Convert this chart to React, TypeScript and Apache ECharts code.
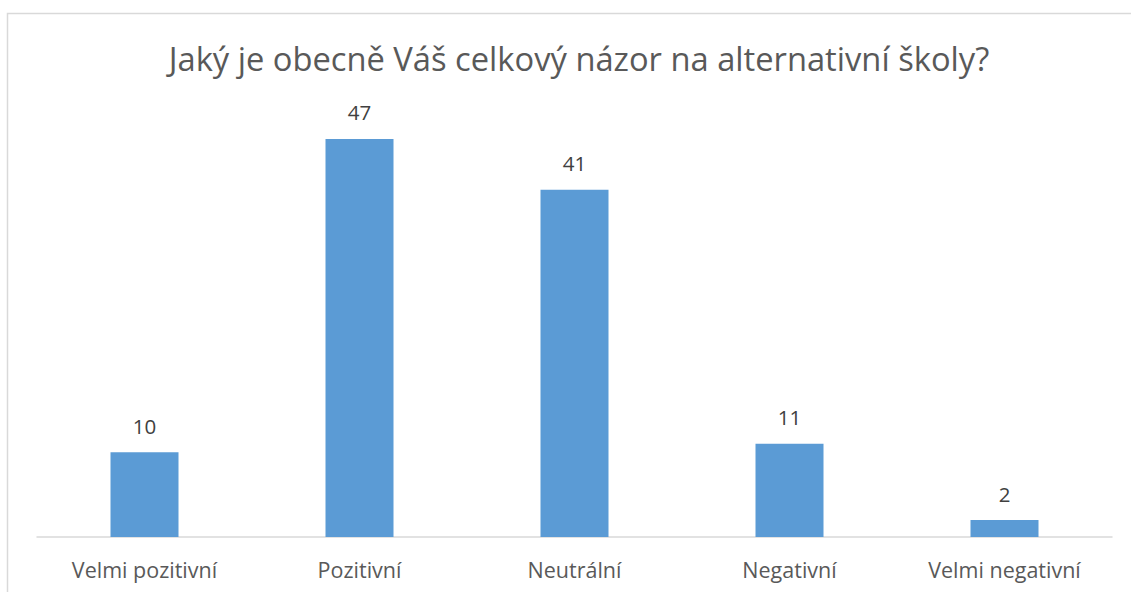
import React, { useEffect, useRef } from "react";
import * as echarts from "echarts";

const categories = ["Velmi pozitivní", "Pozitivní", "Neutrální", "Negativní", "Velmi negativní"];
const values = [10, 47, 41, 11, 2];
const title = "Jaký je obecně Váš celkový názor na alternativní školy?";

const FONT = "'Open Sans', sans-serif";

export default function App() {
  const ref = useRef<HTMLDivElement>(null);
  useEffect(() => {
    if (!ref.current) return;
    const chart = echarts.init(ref.current, undefined, { renderer: "svg" });
    chart.setOption({
      animation: false,
      backgroundColor: "#ffffff",
      graphic: [
        {
          type: "rect",
          shape: { x: 7.5, y: 13.5, width: 1140, height: 600 },
          style: { fill: "none", stroke: "#D9D9D9", lineWidth: 1.5 },
          silent: true,
        },
      ],
      title: {
        text: title,
        left: 574,
        textAlign: "center",
        top: 37,
        textStyle: { fontFamily: FONT, fontSize: 32.7, fontWeight: "normal", color: "#595959" },
      },
      grid: { left: 37, right: 19, top: 113.5, bottom: 55 },
      xAxis: {
        type: "category",
        data: categories,
        axisLine: { lineStyle: { color: "#D9D9D9", width: 1.5 } },
        axisTick: { show: false },
        axisLabel: { fontFamily: FONT, fontSize: 21.5, color: "#595959", margin: 21 },
      },
      yAxis: {
        type: "value",
        min: 0,
        max: 50,
        show: false,
        splitLine: { show: false },
      },
      series: [
        {
          type: "bar",
          data: values,
          barWidth: 68,
          itemStyle: { color: "#5B9BD5" },
          label: {
            show: true,
            position: "top",
            distance: 16,
            fontFamily: FONT,
            fontSize: 20.5,
            color: "#404040",
          },
        },
      ],
    });
    return () => chart.dispose();
  }, []);
  return (
    <div
      ref={ref}
      style={{ position: "absolute", left: 0, top: 0, width: 1131, height: 592 }}
    />
  );
}
